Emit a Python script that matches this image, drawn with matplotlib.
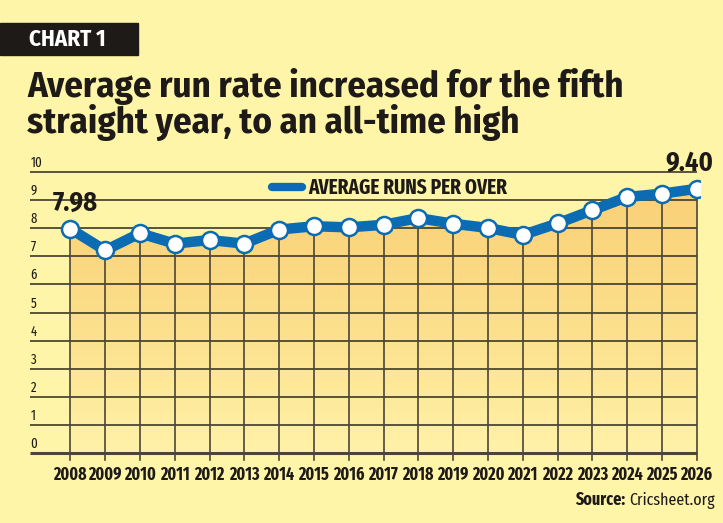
import matplotlib.pyplot as plt
import matplotlib.patches as patches
import numpy as np
from matplotlib.colors import LinearSegmentedColormap

years = list(range(2008, 2027))
run_rate = [7.98, 7.21, 7.82, 7.45, 7.58, 7.45, 7.95, 8.07, 8.03, 8.12,
            8.36, 8.16, 8.01, 7.76, 8.17, 8.64, 9.11, 9.23, 9.40]
y_ticks = list(range(0, 11))

BG = '#fef5a9'
BLUE = '#0b6cb4'
GRID = '#4b4636'
DARK = '#1e1a17'
COND = ['Fira Sans Condensed', 'Open Sans', 'DejaVu Sans']
XCOND = ['Fira Sans Extra Condensed', 'Fira Sans Condensed', 'DejaVu Sans']

fig = plt.figure(figsize=(7.23, 5.23), dpi=100)
fig.patch.set_facecolor(BG)

# header
fig.patches.append(patches.Rectangle((0, 1 - 55 / 523), 138 / 723, 32 / 523,
                                     transform=fig.transFigure, color=DARK))
fig.text(29 / 723, 1 - 46 / 523, 'CHART 1', color='white', fontsize=16.5,
         fontweight='bold', family=COND, va='baseline', ha='left')
fig.text(27 / 723, 1 - 97 / 523, 'Average run rate increased for the fifth',
         color=DARK, fontsize=26.5, fontweight='bold', family=COND, va='baseline')
fig.text(27 / 723, 1 - 133 / 523, 'straight year, to an all-time high',
         color=DARK, fontsize=26.5, fontweight='bold', family=COND, va='baseline')

ax = fig.add_axes([22 / 723, 70 / 523, 678 / 723, 281 / 523])
ax.set_facecolor('none')
x0 = 2008 - (70.3 - 22) / 34.8
ax.set_xlim(x0, 2026 + 3.3 / 34.8)
ax.set_ylim(0, 10)
ax.axis('off')

# gradient fill under the line
grad = LinearSegmentedColormap.from_list('g', ['#fff2a8', '#fcdf8a', '#f9d077'])
img = ax.imshow(np.linspace(0, 1, 256).reshape(-1, 1), cmap=grad, origin='lower',
                extent=[years[0], years[-1], 0, max(run_rate)], aspect='auto', zorder=1)
poly = ax.fill_between(years, 0, run_rate, color='none', zorder=1)
img.set_clip_path(poly.get_paths()[0], transform=ax.transData)

# grid
gx0 = x0 + 8 / 34.8
for t in y_ticks:
    ax.plot([gx0, years[-1]], [t, t], color=GRID, lw=1.3 if t else 2.2,
            zorder=2, solid_capstyle='butt', clip_on=False)
    ax.text(gx0 + 0.02, t + 0.07, str(t), fontsize=10, family=XCOND,
            color=DARK, ha='left', va='bottom')
for yr, v in zip(years, run_rate):
    ax.plot([yr, yr], [-0.25, v], color=GRID, lw=1.2, zorder=2,
            clip_on=False)
    ax.text(yr, -0.78, str(yr), fontsize=12.5, fontweight='bold', family=XCOND,
            color=DARK, ha='center', va='center')

ax.plot(years, run_rate, color=BLUE, lw=7.5, zorder=3, solid_joinstyle='round',
        solid_capstyle='round')
ax.scatter(years, run_rate, s=150, color='white', edgecolor=BLUE, linewidth=1.8,
           zorder=4)

ax.text(2007.5, 8.61, f'{run_rate[0]:.2f}', fontsize=19,
        fontweight='bold', family=COND, color=DARK, ha='left', va='baseline')
ax.text(2026.47, 10.04, f'{run_rate[-1]:.2f}', fontsize=19,
        fontweight='bold', family=COND, color=DARK, ha='right', va='baseline')

# legend
lx0 = 2008 + (272 - 70.3) / 34.8
lx1 = 2008 + (302 - 70.3) / 34.8
ax.plot([lx0, lx1], [9.45, 9.45], color=BLUE, lw=6, solid_capstyle='round',
        zorder=3)
ax.text(2008 + (308 - 70.3) / 34.8, 9.45, 'AVERAGE RUNS PER OVER', fontsize=15,
        fontweight='bold', family=XCOND, color=DARK, va='center', ha='left')

# source: place the bold label just left of the site name
src = fig.text(1 - 8 / 723, 1 - 505 / 523, 'Cricsheet.org', fontsize=12.5,
               family=XCOND, color=DARK, ha='right', va='baseline')
fig.canvas.draw()
left = src.get_window_extent().x0
fig.text((left - 4) / 723, 1 - 505 / 523, 'Source:', fontsize=12.5,
         fontweight='bold', family=XCOND, color=DARK, ha='right', va='baseline')

fig.savefig('out.png', dpi=100, facecolor=BG)
